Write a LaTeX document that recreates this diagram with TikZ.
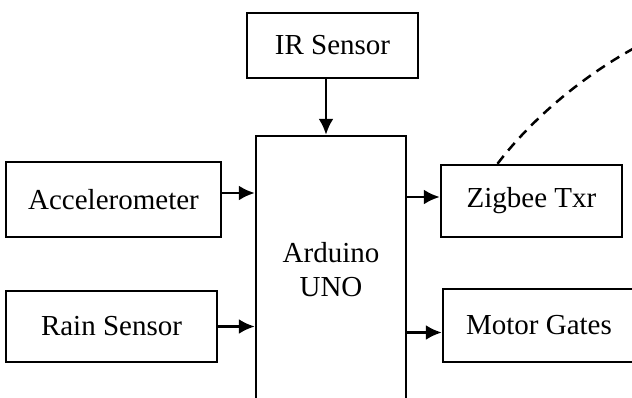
\documentclass[tikz,border=0pt]{standalone}
\usepackage{fontspec}
\setmainfont{Liberation Serif}
\usetikzlibrary{arrows.meta}

\begin{document}
\begin{tikzpicture}[x=0.5pt, y=-0.5pt, line width=1.25pt, >={Latex[length=8pt,width=7.5pt]},
  block/.style={draw, rectangle, inner sep=0pt, align=center, font=\fontsize{14.5}{17}\selectfont}]
  \useasboundingbox (0,0) rectangle (632,397);
  \clip (0,0) rectangle (632,397);

  \node[block, minimum width=85.5pt, minimum height=32.5pt] (ir) at (332.5,45.5) {IR Sensor};
  \node[block, minimum width=75pt, minimum height=134pt] (uno) at (331,270) {Arduino\\UNO};
  \node[block, minimum width=107.5pt, minimum height=37.5pt] (acc) at (113.5,199.5) {Accelerometer};
  \node[block, minimum width=105.5pt, minimum height=35.5pt] (rain) at (111.5,326.5) {Rain Sensor};
  \node[block, minimum width=90.5pt, minimum height=36pt] (zig) at (531.5,201) {Zigbee Txr};
  \node[block, minimum width=96pt, minimum height=36.5pt] (motor) at (539,325.5) {Motor Gates};
  \coordinate (sky) at (640,45);

  \draw[->] ([xshift=-3.25pt]ir.south) -- ([xshift=-3.25pt]ir.south |- uno.north);
  \draw[->] ([yshift=3.25pt]acc.east) -- ([yshift=3.25pt]acc.east -| uno.west);
  \draw[->] (rain.east) -- (rain.east -| uno.west);
  \draw[->] ([yshift=2pt]zig.west -| uno.east) -- ([yshift=2pt]zig.west);
  \draw[->] ([yshift=-3.5pt]motor.west -| uno.east) -- ([yshift=-3.5pt]motor.west);

  \draw[dash pattern=on 5pt off 3.5pt] ([xshift=-17pt]zig.north) .. controls (534,116) and (587,73) .. (sky);
\end{tikzpicture}
\end{document}
